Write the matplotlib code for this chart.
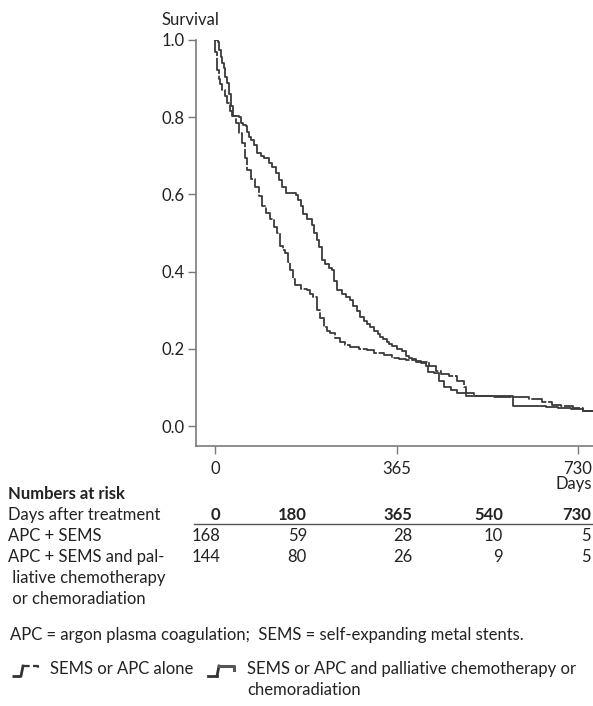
import matplotlib
matplotlib.use("Agg")
import matplotlib.pyplot as plt
from matplotlib.lines import Line2D

plt.rcParams['font.family'] = ['Lato', 'DejaVu Sans']

# ---- data: Kaplan-Meier step points (day, survival) ----
alone_days = [0, 1, 4.6, 8, 11, 14.7, 20, 24.7, 30, 34.8, 41.6, 48.3, 54.9, 59.7, 65, 72, 80,
              88.5, 95, 102, 110, 118, 125, 130, 136, 140.5, 146, 150.6, 156, 160.9, 172,
              184.4, 191, 197.9, 204.7, 211, 218.2, 225, 231.7, 241, 252, 262, 272, 290,
              305.8, 320, 339.6, 355, 370, 385, 405, 430, 444, 454, 470.5, 487, 500.7, 504,
              521, 560, 631, 658, 678, 695, 719, 740, 770]
alone_surv = [1.0, 0.97, 0.922, 0.90, 0.885, 0.871, 0.855, 0.836, 0.815, 0.802, 0.785, 0.759,
              0.733, 0.694, 0.664, 0.64, 0.62, 0.595, 0.57, 0.552, 0.535, 0.515, 0.5, 0.466,
              0.455, 0.448, 0.425, 0.404, 0.38, 0.365, 0.355, 0.352, 0.342, 0.335, 0.3, 0.28,
              0.257, 0.245, 0.24, 0.228, 0.218, 0.21, 0.205, 0.2, 0.196, 0.19, 0.183, 0.176,
              0.173, 0.17, 0.166, 0.156, 0.143, 0.134, 0.13, 0.117, 0.1, 0.085, 0.078, 0.075,
              0.07, 0.061, 0.054, 0.051, 0.046, 0.04, 0.04]

chemo_days = [0, 6, 9, 11.5, 15, 18, 21, 24.7, 28, 31.6, 36, 48, 51.7, 56, 61.7, 65, 68.4, 73,
              78.4, 85, 92, 98.5, 108.6, 115, 122, 128, 135, 142, 162, 167.5, 172, 177.8, 186,
              195.7, 200, 204.7, 209, 214.8, 222, 229, 235, 240, 245, 255, 263, 272, 278, 285,
              292, 300, 306, 312.6, 320, 327, 332.8, 338, 345, 350, 356.5, 365, 376.6, 383.5,
              390, 397, 403.6, 415, 423.7, 427.7, 440, 450, 460.5, 475, 487, 504, 600, 665,
              690, 715, 740, 770]
chemo_surv = [1.0, 0.994, 0.975, 0.957, 0.94, 0.927, 0.905, 0.888, 0.86, 0.828, 0.804, 0.8,
              0.785, 0.78, 0.776, 0.762, 0.75, 0.74, 0.729, 0.707, 0.70, 0.694, 0.681, 0.67,
              0.656, 0.638, 0.62, 0.604, 0.598, 0.585, 0.569, 0.548, 0.535, 0.522, 0.5, 0.482,
              0.465, 0.43, 0.42, 0.41, 0.404, 0.375, 0.352, 0.342, 0.335, 0.326, 0.31, 0.297,
              0.283, 0.272, 0.265, 0.257, 0.247, 0.238, 0.231, 0.225, 0.218, 0.212, 0.207, 0.2,
              0.195, 0.182, 0.177, 0.173, 0.169, 0.162, 0.156, 0.139, 0.137, 0.117, 0.1, 0.092,
              0.085, 0.077, 0.052, 0.05, 0.047, 0.044, 0.04, 0.04]

y_ticks = [0.0, 0.2, 0.4, 0.6, 0.8, 1.0]
x_ticks = [0, 365, 730]

risk_days = [0, 180, 365, 540, 730]
risk_alone = [168, 59, 28, 10, 5]
risk_chemo = [144, 80, 26, 9, 5]

row_labels = ["Days after treatment", "APC + SEMS", "APC + SEMS and pal-",
              " liative chemotherapy", " or chemoradiation"]
legend_labels = ["SEMS or APC alone", "SEMS or APC and palliative chemotherapy or",
                 "chemoradiation"]
footnote = "APC = argon plasma coagulation;  SEMS = self-expanding metal stents."

# ---- figure ----
W, H = 593, 706
fig = plt.figure(figsize=(W / 100, H / 100), dpi=100)

ax_l, ax_r, ax_t, ax_b = 196, 593, 40, 446
ax = fig.add_axes([ax_l / W, 1 - ax_b / H, (ax_r - ax_l) / W, (ax_b - ax_t) / H])
px_per_day = (578 - 215) / 730.0
ax.set_xlim((ax_l - 215) / px_per_day, (ax_r - 215) / px_per_day)
px_per_unit = 426 - 40
ax.set_ylim(-(ax_b - 426) / px_per_unit, 1.0)

line_col = '#3a3a3a'
ax.plot(alone_days, alone_surv, drawstyle='steps-post', color=line_col, lw=1.3,
        linestyle=(0, (10, 1)))
ax.plot(chemo_days, chemo_surv, drawstyle='steps-post', color=line_col, lw=1.3)

for s in ['top', 'right']:
    ax.spines[s].set_visible(False)
for s in ['left', 'bottom']:
    ax.spines[s].set_color('#7a7a7a')
    ax.spines[s].set_linewidth(1.2)
ax.spines['left'].set_bounds(-(ax_b - 426) / px_per_unit, 1.0)

fs = 12
ax.set_yticks(y_ticks)
ax.set_yticklabels([f"{v:.1f}" for v in y_ticks])
ax.set_xticks(x_ticks)
ax.set_xticklabels([str(v) for v in x_ticks])
ax.tick_params(axis='both', colors='#7a7a7a', labelcolor='#222222', labelsize=fs,
               length=6, width=1.0, direction='out')
ax.tick_params(axis='x', pad=5)
ax.tick_params(axis='y', pad=2)

# ---- overlay in pixel coordinates ----
ov = fig.add_axes([0, 0, 1, 1], facecolor='none')
ov.set_xlim(0, W)
ov.set_ylim(H, 0)
ov.axis('off')

tc = '#222222'
ov.text(162, 20, "Survival", fontsize=fs, color=tc, va='center', ha='left')
ov.text(592, 484, "Days", fontsize=fs, color=tc, va='center', ha='right')

ov.text(8, 494, "Numbers at risk", fontsize=fs, color=tc, fontweight='bold', va='center')
row_y = [515, 536, 557, 578, 599]
for lbl, y in zip(row_labels, row_y):
    ov.text(8, y, lbl, fontsize=fs, color=tc, va='center')

col_right = [220, 307, 412, 503, 591]
for d, xr in zip(risk_days, col_right):
    ov.text(xr, row_y[0], str(d), fontsize=fs, color=tc, fontweight='bold', va='center', ha='right')
for v, xr in zip(risk_alone, col_right):
    ov.text(xr, row_y[1], str(v), fontsize=fs, color=tc, va='center', ha='right')
for v, xr in zip(risk_chemo, col_right):
    ov.text(xr, row_y[2], str(v), fontsize=fs, color=tc, va='center', ha='right')
ov.add_line(Line2D([194, 592], [524, 524], color='#555555', lw=1.0))

ov.text(10, 635, footnote, fontsize=fs, color=tc, va='center')

# legend icons
def icon(x0, y0, dashed):
    ov.add_line(Line2D([x0, x0 + 9], [y0, y0], color='#333333', lw=2.0,
                       linestyle=(0, (3, 1)) if dashed else '-'))
    ov.add_line(Line2D([x0 + 9, x0 + 11], [y0, y0 - 10], color='#333333', lw=2.0))
    ov.add_line(Line2D([x0 + 11, x0 + 26, x0 + 26], [y0 - 10, y0 - 10, y0 - 6],
                       color='#555555' if not dashed else '#333333', lw=2.2 if not dashed else 1.6,
                       linestyle=(0, (3, 1.5)) if dashed else '-'))

icon(12, 676, True)
ov.text(50, 669, legend_labels[0], fontsize=fs, color=tc, va='center')
icon(208, 676, False)
ov.text(247, 669, legend_labels[1], fontsize=fs, color=tc, va='center')
ov.text(247, 690, legend_labels[2], fontsize=fs, color=tc, va='center')

fig.savefig("out.png", dpi=100)
